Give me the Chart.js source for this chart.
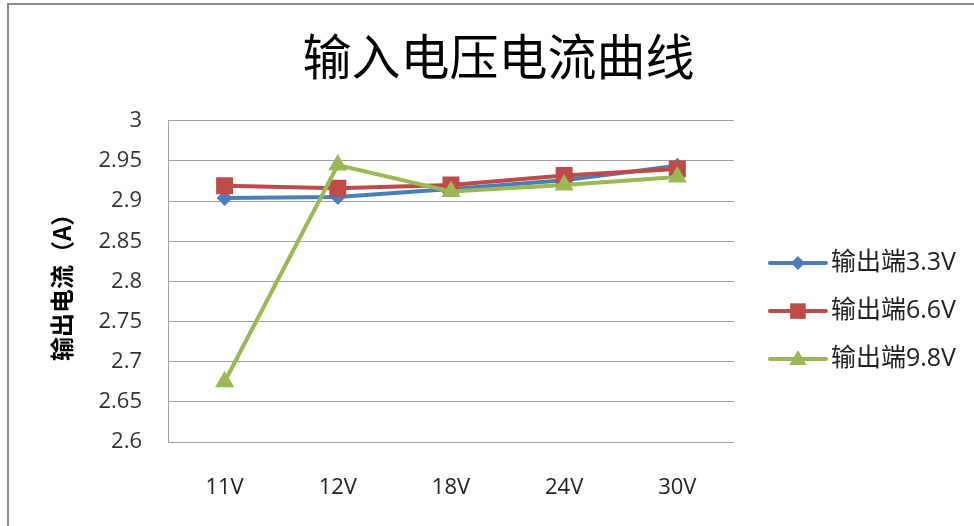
<!DOCTYPE html>
<html>
<head>
<meta charset="utf-8">
<script src="https://cdn.jsdelivr.net/npm/chart.js@4/dist/chart.umd.min.js"></script>
<style>
    html, body { margin: 0; padding: 0; background: #fff; }
    #frame {
        position: absolute; left: 7px; top: 3px; width: 980px; height: 540px;
        border-left: 2px solid #8c8c8c; border-top: 2px solid #8c8c8c;
    }
    #wrap { position: absolute; left: 0; top: 0; width: 974px; height: 526px; }
</style>
</head>
<body>
<div id="frame"></div>
<div id="wrap"><canvas id="current-chart" width="974" height="526"></canvas></div>
<script>
const voltages = ["11V", "12V", "18V", "24V", "30V"];
const out33 = [2.904, 2.905, 2.915, 2.926, 2.944];
const out66 = [2.919, 2.916, 2.92, 2.932, 2.94];
const out98 = [2.675, 2.945, 2.912, 2.92, 2.93];
const seriesNames = ["输出端3.3V", "输出端6.6V", "输出端9.8V"];

const cjk = "'Noto Sans CJK SC', 'Noto Sans', sans-serif";
const latin = "'Open Sans', 'Noto Sans CJK SC', sans-serif";

// legend icons: line with the marker in the middle, drawn over the legend box
const legendIcons = {
    id: "legendIcons",
    afterDraw(chart) {
        const legend = chart.legend;
        const ctx = chart.ctx;
        legend.legendHitBoxes.forEach((box, i) => {
            const ds = chart.data.datasets[legend.legendItems[i].datasetIndex];
            const y = box.top + box.height / 2;
            const x0 = box.left + 13;
            const x1 = box.left + 69;
            ctx.save();
            ctx.strokeStyle = ds.borderColor;
            ctx.fillStyle = ds.borderColor;
            ctx.lineWidth = 4;
            ctx.lineCap = "round";
            ctx.beginPath();
            ctx.moveTo(x0, y);
            ctx.lineTo(x1, y);
            ctx.stroke();
            Chart.helpers.drawPoint(ctx, {
                pointStyle: ds.pointStyle,
                radius: ds.legendRadius,
                rotation: 0,
                borderWidth: 0,
            }, (x0 + x1) / 2, y + (ds.pointStyle === "triangle" ? 1 : 0));
            ctx.restore();
        });
    },
};

const ctx = document.getElementById("current-chart").getContext("2d");

function makeSet(label, data, color, style, radius, order) {
    return {
        label: label,
        data: data,
        borderColor: color,
        backgroundColor: color,
        pointBackgroundColor: color,
        pointBorderWidth: 0,
        pointStyle: style,
        pointRadius: radius,
        pointHoverRadius: radius,
        legendRadius: radius - 1,
        borderWidth: 4,
        tension: 0,
        order: order,
    };
}

const currentChart = new Chart(ctx, {
    type: "line",
    data: {
        labels: voltages,
        datasets: [
            makeSet(seriesNames[0], out33, "#4a7ebb", "rectRot", 8, 2),
            makeSet(seriesNames[1], out66, "#be4b48", "rect", 12, 1),
            makeSet(seriesNames[2], out98, "#98b954", "triangle", 11, 0),
        ],
    },
    plugins: [legendIcons],
    options: {
        responsive: false,
        animation: false,
        layout: {
            padding: { left: 31, right: 8, top: 10, bottom: 24.8 },
        },
        scales: {
            x: {
                offset: true,
                afterFit(scale) {
                    scale.height = 59.2;
                },
                grid: { display: false, drawTicks: false },
                border: { display: true, color: "#a0a0a0", width: 1 },
                ticks: {
                    padding: 32.8,
                    maxRotation: 0,
                    color: "#222",
                    font: { family: latin, size: 22 },
                },
            },
            y: {
                min: 2.6,
                max: 3,
                afterFit(scale) {
                    scale.width = 137;
                },
                grid: { color: "#a0a0a0", drawTicks: false },
                border: { display: true, color: "#a0a0a0", width: 1 },
                ticks: {
                    stepSize: 0.05,
                    padding: 26,
                    color: "#333",
                    font: { family: latin, size: 22 },
                    callback: value => String(parseFloat(value.toFixed(2))),
                },
                title: {
                    display: true,
                    text: "输出电流（A）",
                    color: "#000",
                    padding: { top: 16.6, bottom: 0 },
                    font: { family: cjk, size: 24, weight: "bold" },
                },
            },
        },
        plugins: {
            title: {
                display: true,
                text: "输入电压电流曲线",
                color: "#000",
                padding: { top: 17, bottom: 35 },
                font: { family: cjk, size: 49, weight: "normal" },
            },
            legend: {
                display: true,
                position: "right",
                title: {
                    display: true,
                    text: " ",
                    padding: { top: 49.5, bottom: 49.5 },
                    font: { size: 10 },
                },
                labels: {
                    boxWidth: 61.5,
                    padding: 23,
                    color: "#222",
                    font: { family: latin, size: 25 },
                    sort: (a, b) => a.datasetIndex - b.datasetIndex,
                    generateLabels(chart) {
                        const items = Chart.defaults.plugins.legend.labels.generateLabels(chart);
                        return items.map(item => Object.assign(item, {
                            fillStyle: "rgba(0,0,0,0)",
                            strokeStyle: "rgba(0,0,0,0)",
                            lineWidth: 0,
                        }));
                    },
                },
            },
            tooltip: { enabled: false },
        },
    },
});
</script>
</body>
</html>
